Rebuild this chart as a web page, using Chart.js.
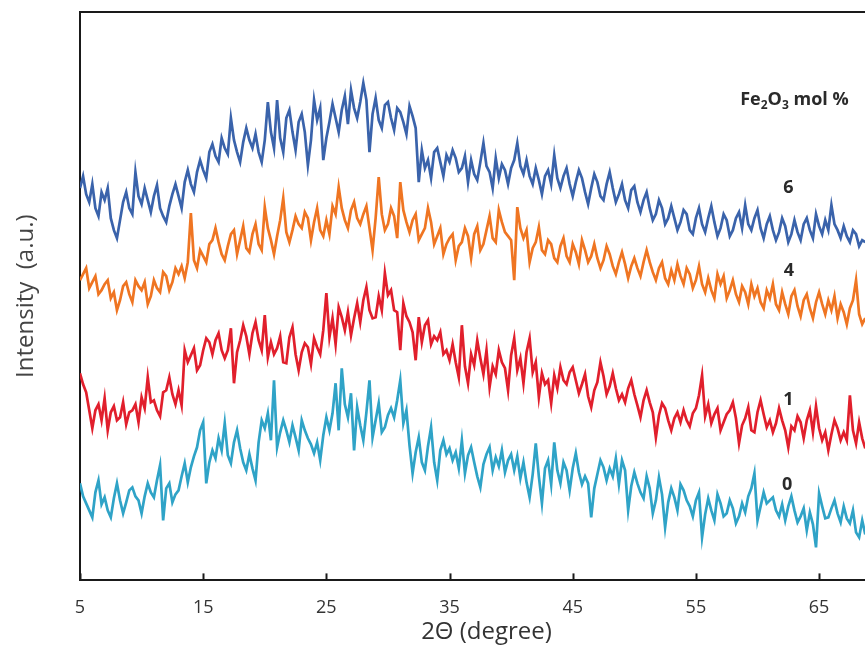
<!DOCTYPE html>
<html>
<head>
<meta charset="utf-8">
<title>XRD patterns</title>
<script src="https://cdn.jsdelivr.net/npm/chart.js@4.4.1/dist/chart.umd.min.js"></script>
<style>
  html, body { margin: 0; padding: 0; background: #ffffff; overflow: hidden; }
  #wrap { width: 865px; height: 648px; overflow: hidden; }
</style>
</head>
<body>
<div id="wrap"><canvas id="xrd" width="893" height="648"></canvas></div>
<script>
// Scan grid: 2θ from 5° in 0.25° steps
const TWO_THETA_START = 5;
const TWO_THETA_STEP = 0.25;
const X_MIN = 5;
const X_MAX = 71;
const X_TICKS = [5, 15, 25, 35, 45, 55, 65];

// Fe2O3 mol % of each pattern (curves are stacked with vertical offsets)
const SERIES_NAMES = ['6', '4', '1', '0'];

// Intensity (a.u., offset for stacking), one row per degree: 5, 6, 7 ... 68
const I_6 = [
  392, 404, 386, 378,  396, 372, 364, 388,  380, 392, 362, 350,  342, 360, 378, 388,
  372, 366, 408, 384,  376, 392, 380, 368,  384, 395, 372, 364,  358, 374, 386, 396,
  384, 372, 398, 410,  396, 388, 408, 420,  410, 402, 428, 436,  424, 418, 442, 432,
  426, 462, 440, 428,  418, 438, 452, 440,  432, 446, 428, 418,  440, 478, 448, 432,
  480, 442, 428, 462,  470, 448, 430, 458,  466, 448, 415, 440,  480, 460, 472, 420,
  442, 458, 476, 462,  448, 470, 484, 456,  490, 472, 462, 478,  497, 480, 428, 466,
  482, 460, 452, 475,  478, 462, 450, 472,  468, 458, 446, 474,  464, 452, 398, 430,
  412, 420, 402, 428,  432, 418, 404, 425,  418, 430, 422, 408,  412, 424, 398, 420,
  406, 400, 418, 437,  414, 408, 392, 422,  402, 416, 410, 396,  412, 420, 437, 414,
  406, 420, 404, 396,  412, 400, 386, 404,  410, 396, 425, 402,  392, 404, 412, 396,
  384, 398, 410, 402,  388, 376, 392, 406,  398, 384, 380, 396,  408, 392, 378, 386,
  396, 380, 372, 390,  394, 378, 368, 380,  388, 372, 360, 366,  380, 372, 356, 362,
  374, 362, 350, 358,  370, 366, 350, 346,  362, 372, 356, 348,  362, 374, 358, 344,
  352, 366, 360, 344,  350, 362, 368, 352,  375, 356, 350, 362,  370, 352, 342, 356,
  364, 350, 340, 348,  362, 354, 338, 346,  360, 348, 340, 356,  362, 350, 342, 366,
  354, 346, 360, 350,  375, 356, 350, 342,  354, 344, 338, 350,  346, 334, 340, 338
];
const I_4 = [
  300, 306, 312, 292,  298, 304, 286, 290,  296, 300, 282, 288,  270, 280, 294, 298,
  286, 278, 300, 294,  290, 298, 276, 284,  300, 292, 288, 308,  304, 290, 298, 312,
  306, 314, 302, 318,  367, 320, 312, 330,  324, 318, 336, 340,  352, 338, 326, 320,
  334, 346, 350, 326,  340, 354, 332, 328,  346, 356, 336, 330,  373, 352, 340, 326,
  344, 360, 382, 348,  338, 350, 364, 356,  352, 368, 362, 340,  358, 372, 350, 344,
  360, 346, 374, 366,  393, 372, 360, 352,  370, 378, 362, 356,  366, 374, 352, 330,
  362, 403, 366, 350,  356, 372, 364, 342,  398, 370, 358, 348,  360, 366, 340, 346,
  352, 372, 358, 336,  344, 352, 326, 336,  342, 346, 320, 334,  338, 352, 344, 322,
  346, 354, 330, 336,  350, 364, 342, 338,  370, 358, 348, 344,  340, 300, 373, 352,
  342, 350, 318, 332,  338, 353, 330, 326,  340, 336, 322, 318,  334, 342, 324, 318,
  336, 328, 316, 340,  330, 318, 324, 336,  322, 312, 320, 334,  326, 314, 306, 318,
  328, 316, 302, 314,  322, 312, 304, 318,  330, 318, 308, 300,  312, 318, 302, 296,
  310, 300, 316, 304,  296, 312, 306, 292,  300, 314, 296, 288,  302, 290, 282, 306,
  296, 304, 282, 290,  300, 286, 278, 294,  288, 276, 296, 284,  292, 278, 272, 290,
  282, 296, 276, 270,  288, 276, 266, 284,  290, 274, 264, 280,  286, 272, 262, 278,
  288, 276, 266, 280,  270, 284, 262, 276,  268, 256, 272, 280,  300, 266, 256, 262
];
const I_1 = [
  207, 196, 188, 170,  152, 170, 176, 160,  182, 150, 168, 174,  160, 163, 178, 156,
  168, 170, 176, 158,  183, 172, 203, 178,  180, 170, 164, 188,  190, 203, 186, 176,
  190, 175, 230, 218,  225, 232, 210, 215,  230, 242, 238, 226,  240, 247, 230, 222,
  230, 252, 197, 228,  240, 255, 244, 226,  247, 258, 240, 230,  265, 223, 238, 226,
  232, 244, 218, 217,  243, 253, 226, 210,  228, 237, 233, 216,  242, 233, 226, 250,
  287, 243, 262, 236,  273, 263, 250, 268,  245, 262, 277, 258,  280, 293, 270, 262,
  263, 284, 270, 307,  285, 290, 270, 268,  230, 277, 264, 258,  248, 220, 263, 238,
  255, 260, 236, 244,  240, 248, 226, 230,  220, 236, 218, 203,  255, 214, 197, 226,
  215, 240, 222, 206,  230, 193, 214, 206,  230, 218, 212, 190,  225, 242, 210, 222,
  197, 228, 242, 208,  218, 183, 207, 196,  200, 177, 205, 192,  213, 200, 196, 208,
  213, 200, 187, 196,  206, 184, 173, 190,  198, 218, 204, 186,  194, 207, 192, 180,
  186, 178, 192, 200,  186, 175, 163, 180,  190, 178, 168, 143,  165, 177, 172, 160,
  150, 162, 168, 158,  170, 160, 154, 167,  172, 185, 205, 164,  176, 157, 166, 172,
  150, 158, 166, 170,  178, 162, 137, 155,  162, 173, 150, 148,  168, 180, 166, 153,
  160, 148, 157, 172,  160, 150, 133, 154,  150, 164, 158, 142,  160, 170, 148, 174,
  152, 140, 148, 130,  146, 160, 152, 140,  148, 140, 185, 150,  137, 158, 142, 132
];
const I_0 = [
   97,  84,  77,  70,   63,  88, 100,  76,   83,  70,  63,  82,   97,  80,  67,  78,
   90,  93,  84,  80,   67,  84,  97,  88,   83, 100, 115,  60,   92,  97,  78,  86,
   90, 104, 117,  98,  113, 124, 133, 150,  158,  97, 118, 130,  122, 142, 130, 157,
  125, 117, 138, 150,  132, 118, 110, 126,  112, 100, 138, 160,  152, 167, 140, 200,
  133, 148, 160, 150,  138, 155, 143, 130,  160, 150, 142, 136,  127, 138, 120, 145,
  163, 150, 167, 197,  150, 212, 176, 163,  187, 130, 173, 155,  140, 168, 200, 143,
  160, 177, 148, 153,  165, 172, 163, 180,  200, 157, 170, 135,  107, 128, 143, 118,
  110, 134, 153, 118,  100, 130, 140, 126,  132, 120, 128, 112,  140, 107, 125, 133,
  118, 104,  93, 116,  126, 133, 110, 123,  114, 130, 108, 120,  126, 110, 124, 102,
  118,  98,  83, 106,  137, 104,  77, 112,  120,  96, 138, 110,   97, 118, 110,  90,
  112, 127, 108,  96,  104,  97,  63,  92,  106, 120, 113, 100,  112, 104, 122,  96,
  120, 110,  70,  94,  108,  97,  88,  82,  104,  92,  67,  80,  103,  86,  53,  78,
   92,  83,  70,  96,   90,  80,  74,  64,   80,  88,  43,  66,   82,  70,  60,  86,
   77,  64,  67,  80,   72,  57,  64,  77,   68,  84,  92, 107,   60,  74,  88,  77,
   80,  83,  70,  64,   76,  60,  74,  84,   70,  58,  64,  72,   50,  68,  56,  33,
   87,  74,  62,  63,   72,  80,  67,  58,   74,  62,  57,  70,   48,  43,  60,  46
];

const SERIES_VALUES = [I_6, I_4, I_1, I_0];
const SERIES_COLORS = ['#3a63ab', '#ef7522', '#e11f2c', '#2fa3c7'];

// Where each curve's composition label sits, in data units (2θ, intensity)
const LABEL_ANCHORS = [[62.5, 392], [62.55, 309], [62.5, 180], [62.4, 95]];
const HEADER_ANCHOR = [63.0, 475];

const AXIS_COLOR = '#1a1a1a';
const TEXT_COLOR = '#2a2a2a';

function toPoints(values) {
  return values.map((v, i) => ({ x: TWO_THETA_START + i * TWO_THETA_STEP, y: v }));
}

// Top frame line and inward-pointing tick marks on the 2θ axis
const frameAndTicks = {
  id: 'frameAndTicks',
  afterDraw(chart) {
    const { ctx, chartArea, scales } = chart;
    const xs = scales.x;
    ctx.save();
    ctx.strokeStyle = AXIS_COLOR;
    ctx.lineWidth = 2;
    ctx.beginPath();
    ctx.moveTo(chartArea.left - 1, chartArea.top);
    ctx.lineTo(chartArea.right, chartArea.top);
    ctx.stroke();
    xs.ticks.forEach(t => {
      const px = Math.round(xs.getPixelForValue(t.value)) + 0.5;
      ctx.beginPath();
      ctx.moveTo(px, chartArea.bottom);
      ctx.lineTo(px, chartArea.bottom - 7);
      ctx.stroke();
    });
    ctx.restore();
  }
};

// Composition labels next to each curve and the legend header
const curveLabels = {
  id: 'curveLabels',
  afterDatasetsDraw(chart) {
    const { ctx, scales } = chart;
    const xs = scales.x, ys = scales.y;
    ctx.save();
    ctx.fillStyle = TEXT_COLOR;
    ctx.textAlign = 'center';
    ctx.textBaseline = 'middle';
    ctx.font = 'bold 18px "Open Sans", "DejaVu Sans", sans-serif';
    SERIES_NAMES.forEach((name, i) => {
      const [ax, ay] = LABEL_ANCHORS[i];
      ctx.fillText(name, xs.getPixelForValue(ax), ys.getPixelForValue(ay));
    });

    // "Fe2O3 mol %" with subscripts
    const parts = [
      { t: 'Fe', sub: false }, { t: '2', sub: true }, { t: 'O', sub: false },
      { t: '3', sub: true }, { t: ' mol %', sub: false }
    ];
    const big = 'bold 18px "Open Sans", "DejaVu Sans", sans-serif';
    const small = 'bold 12px "Open Sans", "DejaVu Sans", sans-serif';
    let total = 0;
    parts.forEach(p => { ctx.font = p.sub ? small : big; total += ctx.measureText(p.t).width; });
    let cx = xs.getPixelForValue(HEADER_ANCHOR[0]) - total / 2;
    const base = ys.getPixelForValue(HEADER_ANCHOR[1]);
    ctx.textAlign = 'left';
    ctx.textBaseline = 'alphabetic';
    parts.forEach(p => {
      ctx.font = p.sub ? small : big;
      ctx.fillText(p.t, cx, base + (p.sub ? 4 : 0));
      cx += ctx.measureText(p.t).width;
    });
    ctx.restore();
  }
};

new Chart(document.getElementById('xrd'), {
  type: 'line',
  data: {
    datasets: SERIES_VALUES.map((vals, i) => ({
      label: SERIES_NAMES[i],
      data: toPoints(vals),
      borderColor: SERIES_COLORS[i],
      backgroundColor: SERIES_COLORS[i],
      borderWidth: 2.7,
      pointRadius: 0,
      tension: 0,
      fill: false
    }))
  },
  options: {
    responsive: false,
    devicePixelRatio: 1,
    animation: false,
    events: [],
    layout: { padding: { top: 12, right: 0, bottom: 0, left: 0 } },
    plugins: { legend: { display: false }, tooltip: { enabled: false } },
    scales: {
      x: {
        type: 'linear',
        min: X_MIN,
        max: X_MAX,
        afterBuildTicks(scale) { scale.ticks = X_TICKS.map(v => ({ value: v })); },
        grid: { display: false, drawTicks: false },
        border: { display: true, color: AXIS_COLOR, width: 2 },
        ticks: {
          padding: 17,
          color: '#333',
          maxRotation: 0,
          autoSkip: false,
          font: { family: '"Open Sans", sans-serif', size: 18, lineHeight: 1.2 }
        },
        title: {
          display: true,
          text: '2Θ (degree)',
          color: '#333',
          font: { family: '"Open Sans", sans-serif', size: 24, lineHeight: 1 },
          padding: { top: -16, bottom: 4 }
        }
      },
      y: {
        min: 0,
        max: 568,
        grid: { display: false, drawTicks: false },
        border: { display: true, color: AXIS_COLOR, width: 2 },
        ticks: { display: false },
        title: {
          display: true,
          text: 'Intensity  (a.u.)',
          color: '#444',
          font: { family: '"Open Sans", sans-serif', size: 24, lineHeight: 1.2 },
          padding: { top: 12, bottom: 39.2 }
        }
      }
    }
  },
  plugins: [frameAndTicks, curveLabels]
});
</script>
</body>
</html>
